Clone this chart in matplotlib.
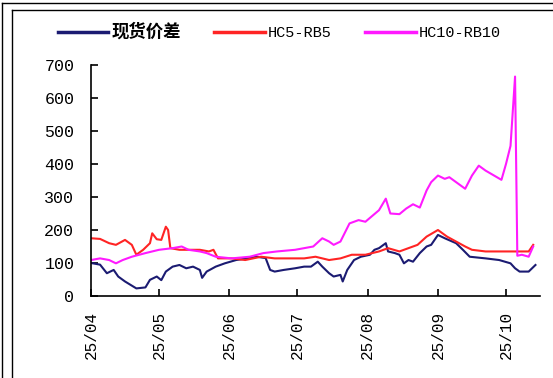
import matplotlib
matplotlib.use("Agg")
import matplotlib.pyplot as plt
import matplotlib.dates as mdates
from matplotlib.lines import Line2D
import pandas as pd

# ---------------- data ----------------
spot_dates = ["2025-04-01", "2025-04-05", "2025-04-08", "2025-04-11", "2025-04-13", "2025-04-16",
              "2025-04-21", "2025-04-25", "2025-04-27", "2025-04-30", "2025-05-02", "2025-05-04",
              "2025-05-07", "2025-05-10", "2025-05-13", "2025-05-16", "2025-05-19", "2025-05-20",
              "2025-05-22", "2025-05-26", "2025-05-30", "2025-06-04", "2025-06-09", "2025-06-13",
              "2025-06-17", "2025-06-19", "2025-06-21", "2025-06-25", "2025-06-30", "2025-07-04",
              "2025-07-07", "2025-07-10", "2025-07-12", "2025-07-15", "2025-07-17", "2025-07-20",
              "2025-07-21", "2025-07-23", "2025-07-26", "2025-07-29", "2025-08-02", "2025-08-04",
              "2025-08-06", "2025-08-09", "2025-08-10", "2025-08-13", "2025-08-15", "2025-08-17",
              "2025-08-19", "2025-08-21", "2025-08-24", "2025-08-27", "2025-08-29", "2025-09-01",
              "2025-09-04", "2025-09-09", "2025-09-12", "2025-09-15", "2025-09-22", "2025-09-28",
              "2025-10-03", "2025-10-05", "2025-10-07", "2025-10-11", "2025-10-14"]
spot_vals = [100, 95, 69, 79, 59, 44,
             23, 26, 49, 59, 48, 74,
             89, 94, 84, 89, 79, 55,
             74, 89, 99, 109, 114, 119,
             115, 79, 74, 79, 84, 89,
             89, 104, 89, 69, 59, 64,
             44, 79, 109, 119, 125, 140,
             145, 160, 135, 130, 125, 99,
             109, 104, 130, 150, 155, 185,
             175, 160, 140, 119, 114, 109,
             99, 84, 74, 74, 94]

hc5_dates = ["2025-04-01", "2025-04-05", "2025-04-09", "2025-04-12", "2025-04-16", "2025-04-19",
             "2025-04-21", "2025-04-24", "2025-04-27", "2025-04-28", "2025-04-30", "2025-05-02",
             "2025-05-04", "2025-05-05", "2025-05-06", "2025-05-10", "2025-05-14", "2025-05-19",
             "2025-05-23", "2025-05-25", "2025-05-27", "2025-06-02", "2025-06-08", "2025-06-15",
             "2025-06-21", "2025-07-04", "2025-07-09", "2025-07-15", "2025-07-20", "2025-07-25",
             "2025-07-31", "2025-08-06", "2025-08-10", "2025-08-15", "2025-08-19", "2025-08-23",
             "2025-08-27", "2025-09-01", "2025-09-05", "2025-09-09", "2025-09-13", "2025-09-16",
             "2025-09-22", "2025-09-30", "2025-10-07", "2025-10-11", "2025-10-13"]
hc5_vals = [175, 173, 160, 155, 170, 155,
            125, 140, 160, 190, 172, 170,
            210, 200, 145, 140, 140, 140,
            135, 140, 114, 114, 109, 119,
            114, 114, 119, 109, 114, 125,
            125, 135, 145, 135, 145, 155,
            180, 200, 180, 165, 150, 140,
            135, 135, 135, 135, 155]

hc10_dates = ["2025-04-01", "2025-04-05", "2025-04-09", "2025-04-12", "2025-04-15", "2025-04-19",
              "2025-04-25", "2025-05-01", "2025-05-07", "2025-05-11", "2025-05-14", "2025-05-19",
              "2025-05-22", "2025-05-26", "2025-06-02", "2025-06-10", "2025-06-16", "2025-06-22",
              "2025-06-30", "2025-07-04", "2025-07-08", "2025-07-12", "2025-07-15", "2025-07-17",
              "2025-07-20", "2025-07-24", "2025-07-28", "2025-07-31", "2025-08-06", "2025-08-09",
              "2025-08-11", "2025-08-15", "2025-08-18", "2025-08-21", "2025-08-24", "2025-08-27",
              "2025-08-29", "2025-09-01", "2025-09-04", "2025-09-06", "2025-09-09", "2025-09-13",
              "2025-09-16", "2025-09-19", "2025-09-22", "2025-09-27", "2025-09-29", "2025-10-01",
              "2025-10-03", "2025-10-05", "2025-10-06", "2025-10-08", "2025-10-11", "2025-10-13"]
hc10_vals = [109, 114, 109, 99, 109, 119,
             130, 140, 145, 150, 140, 135,
             130, 119, 114, 119, 130, 135,
             140, 145, 150, 175, 165, 155,
             165, 220, 230, 225, 260, 295,
             250, 248, 265, 278, 268, 320,
             345, 365, 355, 360, 345, 325,
             365, 395, 380, 360, 352, 400,
             455, 665, 122, 125, 119, 150]

series_names = ["现货价差", "HC5-RB5", "HC10-RB10"]
series_colors = ["#1B1B72", "#FF2424", "#FF1AFF"]
month_ticks = ["2025-04-01", "2025-05-01", "2025-06-01", "2025-07-01",
               "2025-08-01", "2025-09-01", "2025-10-01"]
y_ticks = [0, 100, 200, 300, 400, 500, 600, 700]

# ---------------- figure ----------------
W, H = 553, 378
fig = plt.figure(figsize=(W / 100, H / 100), dpi=100)
ax = fig.add_axes([91 / W, 1 - 296 / H, (540 - 91) / W, (296 - 65) / H])

tick_font = {"family": "Liberation Mono", "size": 12}

all_dates = [spot_dates, hc5_dates, hc10_dates]
all_vals = [spot_vals, hc5_vals, hc10_vals]
handles = []
for d, v, c, n in zip(all_dates, all_vals, series_colors, series_names):
    ln, = ax.plot(pd.to_datetime(d), v, color=c, lw=1.5, label=n, solid_joinstyle="round")
    handles.append(ln)

ax.set_ylim(0, 700)
ax.set_xlim(pd.Timestamp("2025-04-01"), pd.Timestamp("2025-10-16"))
ax.set_yticks(y_ticks)
ax.set_yticklabels([str(t) for t in y_ticks], fontdict=tick_font)
ax.set_xticks(pd.to_datetime(month_ticks))
ax.xaxis.set_major_formatter(mdates.DateFormatter("%y/%m"))
for lab in ax.get_xticklabels():
    lab.set_fontfamily("Liberation Mono")
    lab.set_fontsize(11.5)
    lab.set_rotation(90)
ax.tick_params(axis="both", direction="in", length=5, width=1.2, colors="black")
ax.tick_params(axis="y", pad=12)
ax.tick_params(axis="x", pad=11)
for s in ["top", "right"]:
    ax.spines[s].set_visible(False)
for s in ["left", "bottom"]:
    ax.spines[s].set_linewidth(1.2)
    ax.spines[s].set_color("black")

leg = fig.legend(handles=handles, loc="center", bbox_to_anchor=(0.505, 1 - 32 / H), ncol=3,
                 frameon=False, prop={"family": "Liberation Mono", "size": 11},
                 handlelength=3.3, handletextpad=0.2, columnspacing=2.2)
for lh in leg.get_lines():
    lh.set_linewidth(2.5)
leg.get_texts()[0].set_fontfamily(["Noto Sans CJK SC", "DejaVu Sans"])
leg.get_texts()[0].set_fontsize(12.5)
leg.get_texts()[0].set_fontweight("bold")

# outer double frame
for x, y in [(2, 3), (12, 10)]:
    fig.add_artist(Line2D([x / W, x / W], [0, 1 - y / H], transform=fig.transFigure,
                          color="black", lw=1.0))
    fig.add_artist(Line2D([x / W, 1], [1 - y / H, 1 - y / H], transform=fig.transFigure,
                          color="black", lw=1.0))

fig.savefig("out.png", dpi=100)
